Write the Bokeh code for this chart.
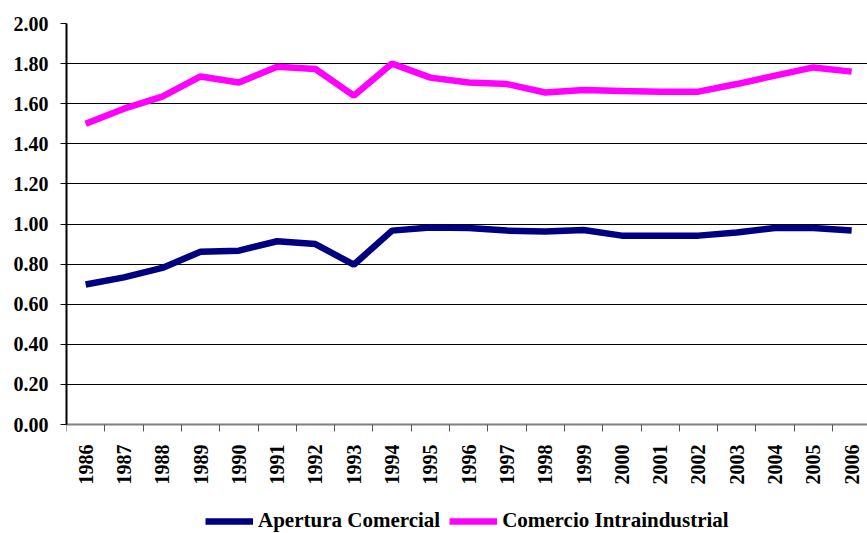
from bokeh.plotting import figure
from bokeh.models import Range1d, FixedTicker, Legend, LegendItem
from bokeh.embed import file_html
from bokeh.resources import INLINE
import math

years = ["1986", "1987", "1988", "1989", "1990", "1991", "1992", "1993", "1994", "1995", "1996",
         "1997", "1998", "1999", "2000", "2001", "2002", "2003", "2004", "2005", "2006"]
apertura = [0.698, 0.734, 0.781, 0.862, 0.867, 0.914, 0.900, 0.797, 0.967, 0.983, 0.980,
            0.967, 0.963, 0.970, 0.942, 0.942, 0.942, 0.958, 0.980, 0.980, 0.967]
comercio = [1.500, 1.575, 1.635, 1.736, 1.706, 1.784, 1.773, 1.640, 1.800, 1.730, 1.706,
            1.698, 1.656, 1.668, 1.663, 1.660, 1.660, 1.698, 1.740, 1.781, 1.760]
y_ticks = [0.0, 0.2, 0.4, 0.6, 0.8, 1.0, 1.2, 1.4, 1.6, 1.8, 2.0]

xs = list(range(len(years)))
cat_w = 38.3
frame_w = 801
px_per_unit = (424 - 23) / 2.0
y_bottom = -(533 - 424) / px_per_unit

p = figure(width=867, height=533, output_backend="svg", toolbar_location=None,
           x_range=Range1d(-0.5, -0.5 + frame_w / cat_w), y_range=Range1d(y_bottom, 2.0),
           min_border_left=66, min_border_right=0, min_border_top=23, min_border_bottom=0)
p.outline_line_color = None
p.background_fill_color = "white"
p.border_fill_color = "white"

font = "Liberation Serif"

r1 = p.line(xs, apertura, line_color="#000080", line_width=6.5)
r2 = p.line(xs, comercio, line_color="#FF00FF", line_width=6.5)

# x axis
xa = p.xaxis[0]
xa.fixed_location = 0
xa.ticker = FixedTicker(ticks=xs, minor_ticks=[i - 0.5 for i in range(len(years) + 1)])
xa.major_label_overrides = {i: y for i, y in enumerate(years)}
xa.major_label_orientation = math.pi / 2
xa.major_tick_line_color = None
xa.major_tick_out = 0
xa.major_tick_in = 0
xa.minor_tick_out = 7
xa.minor_tick_in = 0
xa.minor_tick_line_color = "#555555"
xa.major_label_standoff = 13
xa.major_label_text_font = font
xa.major_label_text_font_style = "bold"
xa.major_label_text_font_size = "20px"
xa.major_label_text_color = "black"
xa.axis_line_color = "#808080"
xa.axis_line_width = 2

# y axis
ya = p.yaxis[0]
ya.bounds = (0, 2.0)
ya.ticker = FixedTicker(ticks=y_ticks)
ya.major_label_overrides = {t: f"{t:.2f}" for t in y_ticks}
ya.minor_tick_line_color = None
ya.major_tick_out = 6
ya.major_tick_in = 0
ya.major_tick_line_color = "black"
ya.major_label_standoff = 12
ya.major_label_text_font = font
ya.major_label_text_font_style = "bold"
ya.major_label_text_font_size = "20px"
ya.major_label_text_color = "black"
ya.axis_line_color = "black"
ya.axis_line_width = 2

p.xgrid.grid_line_color = None
p.ygrid.ticker = FixedTicker(ticks=y_ticks)
p.ygrid.grid_line_color = "black"
p.ygrid.grid_line_width = 1

legend = Legend(items=[LegendItem(label="Apertura Comercial", renderers=[r1]),
                       LegendItem(label="Comercio Intraindustrial", renderers=[r2])],
                location=(139, 0), orientation="horizontal")
legend.border_line_color = None
legend.background_fill_alpha = 0
legend.padding = 0
legend.margin = 0
legend.spacing = 9
legend.glyph_width = 48
legend.glyph_height = 22
legend.label_standoff = 5
legend.label_height = 22
legend.label_text_font = font
legend.label_text_font_style = "bold"
legend.label_text_font_size = "21px"
legend.label_text_color = "black"
p.add_layout(legend, "center")

open("out.html", "w").write(file_html(p, INLINE))
